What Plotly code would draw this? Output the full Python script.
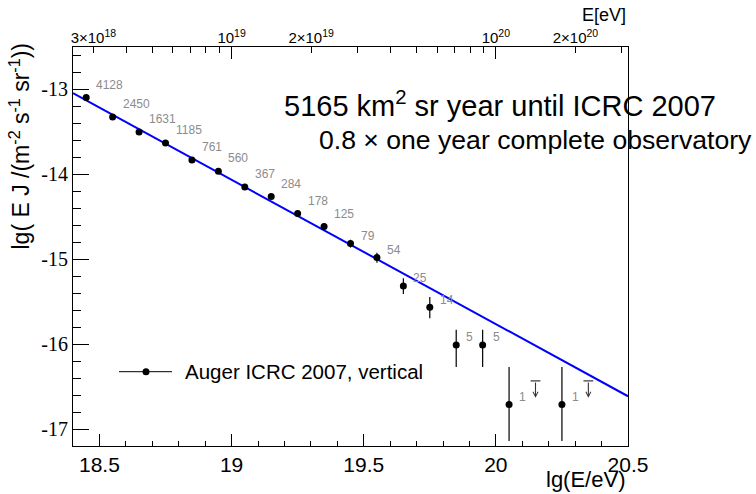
import numpy as np
import plotly.graph_objects as go

# ---------------- data ----------------
lgE = [18.45, 18.55, 18.65, 18.75, 18.85, 18.95, 19.05, 19.15, 19.25, 19.35,
       19.45, 19.55, 19.65, 19.75, 19.85, 19.95, 20.05, 20.25]
lgEJ = [-13.096, -13.324, -13.500, -13.630, -13.830, -13.964, -14.148, -14.262,
        -14.462, -14.615, -14.815, -14.980, -15.314, -15.565, -16.010, -16.010,
        -16.710, -16.710]
err_up = [0.007, 0.009, 0.011, 0.013, 0.016, 0.019, 0.023, 0.026, 0.033, 0.040,
          0.045, 0.055, 0.090, 0.120, 0.180, 0.180, 0.440, 0.440]
err_dn = [0.007, 0.009, 0.011, 0.013, 0.016, 0.019, 0.023, 0.026, 0.033, 0.040,
          0.048, 0.060, 0.095, 0.130, 0.260, 0.260, 0.430, 0.430]
counts = [4128, 2450, 1631, 1185, 761, 560, 367, 284, 178, 125,
          79, 54, 25, 14, 5, 5, 1, 1]

lim_lgE = [20.15, 20.35]
lim_lgEJ = [-16.433, -16.433]

fit_x = [18.4, 20.5]
fit_y = [-13.044, -16.614]

x_range = [18.4, 20.5]
y_range = [-17.2, -12.5]
y_ticks = [-17, -16, -15, -14, -13]
y_ticktext = ["-17", "-16", "-15", "-14", "-13"]

top_label_E = [3e18, 1e19, 2e19, 1e20, 2e20]
top_label_text = ["3×10<sup>18</sup>", "10<sup>19</sup>", "2×10<sup>19</sup>",
                  "10<sup>20</sup>", "2×10<sup>20</sup>"]
top_minor_E = [4e18, 5e18, 6e18, 7e18, 8e18, 9e18,
               3e19, 4e19, 5e19, 6e19, 7e19, 8e19, 9e19, 3e20]
top_decade_E = [1e19, 1e20]

legend_name = "Auger ICRC 2007, vertical"

# ---------------- layout geometry ----------------
W, H = 756, 494
L, R, T, B = 73, 128, 47, 48
PW, PH = W - L - R, H - T - B


def px(xp):
    return (xp - L) / PW


def py(yp):
    return (H - B - yp) / PH


SANS = "Liberation Sans, Arial, Helvetica, sans-serif"
SERIF = "Liberation Serif, Times New Roman, serif"

fig = go.Figure()

# fit line
fig.add_trace(go.Scatter(x=fit_x, y=fit_y, mode="lines",
                         line=dict(color="#0000ff", width=2),
                         showlegend=False, hoverinfo="skip"))

# data points
fig.add_trace(go.Scatter(
    x=lgE, y=lgEJ, mode="markers", name=legend_name,
    marker=dict(symbol="circle", size=7, color="black"),
    error_y=dict(type="data", symmetric=False, array=err_up, arrayminus=err_dn,
                 color="black", thickness=1.2, width=0),
    showlegend=False))

# upper limits: top bar
fig.add_trace(go.Scatter(
    x=lim_lgE, y=lim_lgEJ, mode="markers",
    marker=dict(symbol="line-ew-open", size=7, color="#333333",
                line=dict(color="#333333", width=1.2)),
    showlegend=False, hoverinfo="skip"))

# dummy traces to activate top axes
fig.add_trace(go.Scatter(x=[None], y=[None], xaxis="x2", yaxis="y",
                         showlegend=False, hoverinfo="skip"))
fig.add_trace(go.Scatter(x=[None], y=[None], xaxis="x3", yaxis="y",
                         showlegend=False, hoverinfo="skip"))

annotations = []

# count labels
for xv, yv, c in zip(lgE, lgEJ, counts):
    annotations.append(dict(
        x=xv, y=yv, xref="x", yref="y", text=str(c), showarrow=False,
        xanchor="left", yanchor="middle", xshift=8,
        yshift=13 if c >= 100 else 7.5,
        font=dict(family=SANS, size=12, color="#8c8c8c")))

# upper-limit arrows
for xv, yv in zip(lim_lgE, lim_lgEJ):
    annotations.append(dict(
        x=xv, y=yv - 0.2, xref="x", yref="y",
        ax=xv, ay=yv, axref="x", ayref="y",
        showarrow=True, arrowhead=5, arrowsize=0.9, arrowwidth=1.1,
        arrowcolor="#333333", text=""))

# texts
annotations += [
    dict(x=px(281.7), y=py(104), xref="paper", yref="paper",
         text="5165 km<sup>2</sup> sr year until ICRC 2007", showarrow=False,
         xanchor="left", yanchor="middle",
         font=dict(family=SANS, size=29, color="black")),
    dict(x=px(316.7), y=py(140), xref="paper", yref="paper",
         text="0.8 × one year complete observatory", showarrow=False,
         xanchor="left", yanchor="middle",
         font=dict(family=SANS, size=26.6, color="black")),
    dict(x=1.0, y=py(15.5), xref="paper", yref="paper", text="E[eV]",
         showarrow=False, xanchor="right", yanchor="middle",
         font=dict(family=SANS, size=18, color="black")),
    dict(x=px(627), y=py(480), xref="paper", yref="paper", text="lg(E/eV)",
         showarrow=False, xanchor="right", yanchor="middle",
         font=dict(family=SANS, size=22, color="black")),
    dict(x=px(20), y=py(41), xref="paper", yref="paper",
         text="lg( E J /(m<sup>-2</sup> s<sup>-1</sup> sr<sup>-1</sup>))",
         showarrow=False, textangle=-90, xanchor="center", yanchor="top",
         font=dict(family=SANS, size=23, color="black")),
    # legend text
    dict(x=px(183), y=py(371.7), xref="paper", yref="paper",
         text=legend_name, showarrow=False, xanchor="left", yanchor="middle",
         font=dict(family=SANS, size=20.5, color="black")),
]

shapes = [
    # legend line and marker
    dict(type="line", xref="paper", yref="paper",
         x0=px(119), x1=px(172), y0=py(371.7), y1=py(371.7),
         line=dict(color="black", width=1)),
    dict(type="circle", xref="paper", yref="paper",
         xsizemode="pixel", ysizemode="pixel",
         xanchor=px(146), yanchor=py(371.7),
         x0=-3.5, x1=3.5, y0=-3.5, y1=3.5,
         fillcolor="black", line=dict(color="black", width=0)),
]

fig.update_layout(
    width=W, height=H,
    margin=dict(l=L, r=R, t=T, b=B, pad=0),
    paper_bgcolor="white", plot_bgcolor="white",
    showlegend=False,
    annotations=annotations,
    shapes=shapes,
    xaxis=dict(range=x_range, dtick=0.5, tick0=18.5, ticks="inside",
               ticklen=12, tickwidth=1, tickcolor="black",
               minor=dict(dtick=0.1, ticks="inside", ticklen=5.5,
                          tickcolor="black", tickwidth=1),
               showline=True, linecolor="black", linewidth=1, mirror=True,
               showgrid=False, zeroline=False,
               tickfont=dict(family=SANS, size=21, color="black")),
    xaxis2=dict(range=x_range, overlaying="x", side="top", anchor="y",
                tickmode="array",
                tickvals=list(np.log10(top_label_E)),
                ticktext=top_label_text,
                ticks="inside", ticklen=6, tickwidth=1, tickcolor="black",
                minor=dict(tickmode="array", tickvals=list(np.log10(top_minor_E)),
                           ticks="inside", ticklen=6, tickcolor="black",
                           tickwidth=1),
                showline=False, showgrid=False, zeroline=False,
                tickfont=dict(family=SANS, size=15, color="black")),
    xaxis3=dict(range=x_range, overlaying="x", side="top", anchor="y",
                tickmode="array", tickvals=list(np.log10(top_decade_E)),
                ticks="inside", ticklen=12, tickwidth=1, tickcolor="black",
                showticklabels=False,
                showline=False, showgrid=False, zeroline=False),
    yaxis=dict(range=y_range, tickmode="array", tickvals=y_ticks,
               ticktext=y_ticktext, ticks="inside",
               ticklen=16, tickwidth=1, tickcolor="black",
               minor=dict(dtick=0.2, tick0=-17, ticks="inside", ticklen=8,
                          tickcolor="black", tickwidth=1),
               showline=True, linecolor="black", linewidth=1, mirror=True,
               showgrid=False, zeroline=False,
               tickfont=dict(family=SERIF, size=20, color="black")),
)

fig.write_html("out.html")
